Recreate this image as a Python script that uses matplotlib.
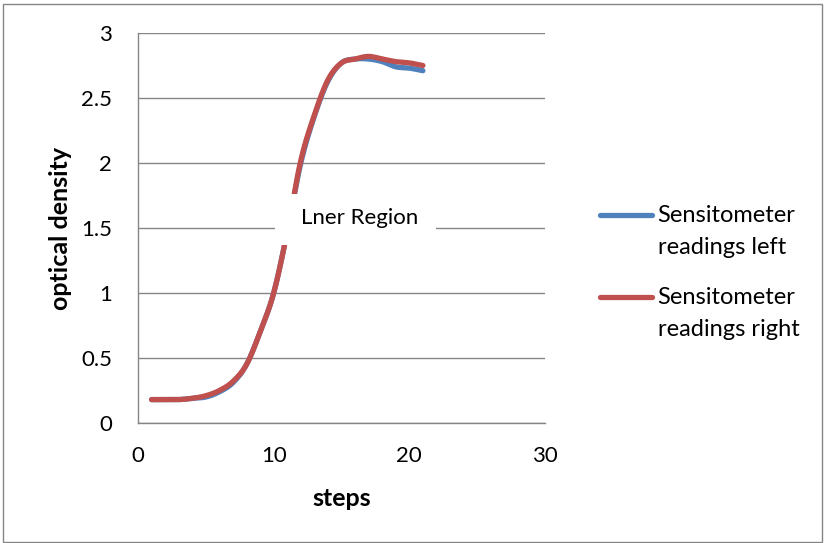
import numpy as np
import matplotlib.pyplot as plt
from matplotlib.patches import Rectangle
from matplotlib.lines import Line2D

plt.rcParams['font.family'] = ['Lato', 'DejaVu Sans']

steps = list(range(1, 22))
left = [0.18, 0.18, 0.18, 0.19, 0.20, 0.24, 0.31, 0.45, 0.70, 1.00, 1.47,
        2.00, 2.36, 2.63, 2.77, 2.80, 2.80, 2.78, 2.74, 2.73, 2.71]
right = [0.18, 0.18, 0.18, 0.19, 0.21, 0.25, 0.32, 0.45, 0.70, 1.00, 1.47,
         2.02, 2.37, 2.64, 2.77, 2.80, 2.82, 2.80, 2.78, 2.77, 2.75]
series_names = ['Sensitometer\nreadings left', 'Sensitometer\nreadings right']

BLUE = '#4F81BD'
RED = '#C0504D'
GRID = '#868686'


def smooth(x, y, n=20):
    # catmull-rom curve through the points, like a smoothed line in a spreadsheet
    x = np.asarray(x, float)
    y = np.asarray(y, float)
    px = np.concatenate([[2 * x[0] - x[1]], x, [2 * x[-1] - x[-2]]])
    py = np.concatenate([[2 * y[0] - y[1]], y, [2 * y[-1] - y[-2]]])
    t = np.linspace(0, 1, n, endpoint=False)
    xs, ys = [], []
    for i in range(1, len(px) - 2):
        for p, out in ((px, xs), (py, ys)):
            p0, p1, p2, p3 = p[i - 1], p[i], p[i + 1], p[i + 2]
            out.extend(0.5 * (2 * p1 + (-p0 + p2) * t
                              + (2 * p0 - 5 * p1 + 4 * p2 - p3) * t ** 2
                              + (-p0 + 3 * p1 - 3 * p2 + p3) * t ** 3))
    xs.append(x[-1])
    ys.append(y[-1])
    return xs, ys


fig = plt.figure(figsize=(8.24, 5.43), dpi=100)
ax = fig.add_axes([0.1675, 0.221, 0.4939, 0.7182])

ax.plot(*smooth(steps, left), color=BLUE, lw=3.8, solid_capstyle='round', zorder=3)
ax.plot(*smooth(steps, right), color=RED, lw=3.8, solid_capstyle='round', zorder=4)

ax.set_xlim(0, 30)
ax.set_ylim(0, 3)
ax.set_xticks([0, 10, 20, 30])
ax.set_yticks([0, 0.5, 1, 1.5, 2, 2.5, 3])
ax.set_yticklabels(['0', '0.5', '1', '1.5', '2', '2.5', '3'])
ax.tick_params(length=0, labelsize=16)
ax.tick_params(axis='y', pad=18.5)
ax.tick_params(axis='x', pad=16.5)
ax.grid(axis='y', color=GRID, lw=1)
ax.set_axisbelow(True)
for s in ['top', 'right']:
    ax.spines[s].set_visible(False)
for s in ['left', 'bottom']:
    ax.spines[s].set_color(GRID)
    ax.spines[s].set_linewidth(1)

ax.set_xlabel('steps', fontsize=18, fontweight='bold', labelpad=15)
ax.set_ylabel('optical density', fontsize=18, fontweight='bold', labelpad=7)

# white label box covering the steep part of the curve
ax.add_patch(Rectangle((10.1, 1.37), 11.9, 0.39, facecolor='white',
                       edgecolor='none', zorder=5))
ax.text(16.3, 1.575, 'Lner Region', fontsize=16, ha='center', va='center',
        zorder=6)

# legend: key line sits level with the first text line
for name, color, y0 in zip(series_names, [BLUE, RED], [0.604, 0.453]):
    fig.add_artist(Line2D([0.728, 0.791], [y0, y0], color=color, lw=3.8,
                          solid_capstyle='round', transform=fig.transFigure))
    fig.text(0.798, y0 + 0.018, name, fontsize=17, ha='left', va='top',
             linespacing=1.65)

# chart area border
fig.patches.append(Rectangle((0.004, 0.002), 0.994, 0.991,
                             transform=fig.transFigure, fill=False,
                             edgecolor=GRID, lw=1))

fig.savefig('out.png', dpi=100)
